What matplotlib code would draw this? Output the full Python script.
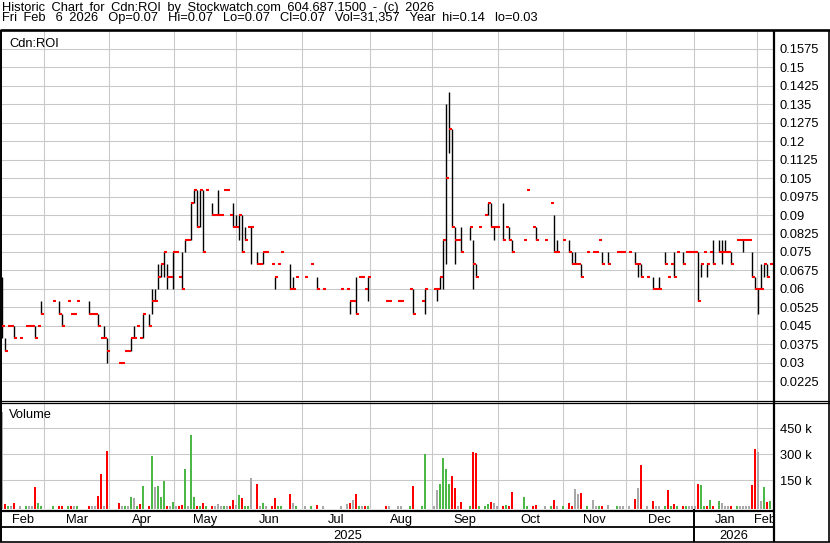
import numpy as np
import matplotlib.pyplot as plt

plt.rcParams['font.family'] = ['Liberation Sans', 'DejaVu Sans']

nan = np.nan

# one entry per trading day, Feb 2025 .. Feb 6 2026 (nan = no trade)
high = [
    .065, .04, .045, .045, .045, nan, .04, nan, .045, .045,
    .045, .045, .045, .055, nan, nan, nan, .055, nan, .055,
    .05, nan, .055, .05, .05, .055, nan, nan, nan, .055,
    .05, .05, .05, .04, .045, .04, nan, nan, nan, .03,
    .03, .035, .035, .04, .045, .045, .04, .05, nan, .05,
    .06, .06, .07, .07, .075, .07, .065, .075, .075, .065,
    .075, .08, .08, .095, .1, .1, .1, .1, .1, nan,
    .095, .09, .1, .09, .1, .1, .09, .095, .09, .09,
    .09, .085, .085, .085, nan, .075, .07, .075, .075, nan,
    .07, .065, .07, .075, nan, nan, .07, .065, .065, nan,
    nan, .065, nan, .07, nan, .065, nan, .06, nan, nan,
    nan, nan, nan, .06, nan, .06, .055, .055, .065, .065,
    .065, .06, .065, nan, nan, nan, nan, nan, .055, .055,
    nan, nan, .055, .055, nan, nan, .06, .06, nan, nan,
    .055, .06, nan, nan, .06, .06, .065, .08, .135, .14,
    .125, .085, .08, .085, nan, nan, .085, .08, .07, .085,
    nan, .09, .095, .095, .085, .085, nan, .095, .085, .085,
    .08, nan, nan, nan, .08, .1, nan, .085, .085, nan,
    nan, .08, nan, .095, .09, .08, nan, .08, nan, .08,
    .075, .075, .07, .07, nan, .075, nan, .075, .075, .08,
    .075, nan, .075, nan, nan, .075, .075, .075, nan, .075,
    nan, .075, .07, .07, nan, .065, nan, .065, .06, .065,
    nan, .075, .065, .07, .075, .075, nan, .075, .075, .075,
    .075, .075, .075, .07, .075, .07, .075, .08, nan, .08,
    .08, .08, .075, .075, nan, .08, .08, .08, .08, .08,
    .075, .065, .06, .07, .07, .07, .07,
]
low = [
    .04, .035, .045, .045, .04, nan, .04, nan, .045, .045,
    .045, .04, .045, .05, nan, nan, nan, .055, nan, .05,
    .045, nan, .055, .05, .05, .055, nan, nan, nan, .05,
    .05, .05, .045, .04, .04, .03, nan, nan, nan, .03,
    .03, .035, .035, .035, .04, .045, .04, .04, nan, .045,
    .05, .055, .06, .065, .065, .06, .065, .06, .075, .065,
    .06, .075, .08, .08, .095, .085, .085, .075, .1, nan,
    .09, .09, .09, .09, .1, .1, .09, .085, .085, .08,
    .075, .08, .085, .07, nan, .07, .07, .07, .075, nan,
    .07, .06, .07, .075, nan, nan, .06, .06, .065, nan,
    nan, .065, nan, .07, nan, .06, nan, .06, nan, nan,
    nan, nan, nan, .06, nan, .06, .05, .055, .05, .065,
    .065, .06, .055, nan, nan, nan, nan, nan, .055, .055,
    nan, nan, .055, .055, nan, nan, .06, .05, nan, nan,
    .055, .05, nan, nan, .06, .055, .06, .06, .07, .115,
    .085, .07, .08, .075, nan, nan, .08, .06, .065, .085,
    nan, .09, .09, .085, .08, .085, nan, .08, .085, .08,
    .075, nan, nan, nan, .08, .1, nan, .085, .08, nan,
    nan, .08, nan, .095, .075, .075, nan, .08, nan, .075,
    .07, .07, .07, .065, nan, .075, nan, .075, .075, .08,
    .07, nan, .07, nan, nan, .075, .075, .075, nan, .075,
    nan, .07, .065, .065, nan, .065, nan, .06, .06, .06,
    nan, .07, .065, .07, .065, .075, nan, .07, .075, .075,
    .075, .075, .055, .065, .075, .065, .075, .07, nan, .075,
    .07, .075, .075, .07, nan, .08, .08, .075, .08, .08,
    .065, .06, .05, .06, .065, .065, .07,
]
close = [
    .045, .035, .045, .045, .04, nan, .04, nan, .045, .045,
    .045, .04, .045, .05, nan, nan, nan, .055, nan, .05,
    .045, nan, .055, .05, .05, .055, nan, nan, nan, .05,
    .05, .05, .045, .04, .04, .035, nan, nan, nan, .03,
    .03, .035, .035, .04, .04, .045, .04, .05, nan, .045,
    .055, .055, .065, .07, .075, .065, .065, .075, .075, .065,
    .06, .08, .08, .095, .1, .085, .1, .075, .1, nan,
    .09, .09, .09, .09, .1, .1, .09, .085, .085, .09,
    .075, .08, .085, .085, nan, .07, .07, .075, .075, nan,
    .07, .065, .07, .075, nan, nan, .06, .06, .065, nan,
    nan, .065, nan, .07, nan, .06, nan, .06, nan, nan,
    nan, nan, nan, .06, nan, .06, .055, .055, .05, .065,
    .065, .06, .065, nan, nan, nan, nan, nan, .055, .055,
    nan, nan, .055, .055, nan, nan, .06, .05, nan, nan,
    .055, .06, nan, nan, .06, .06, .065, .08, .105, .125,
    .085, .08, .08, .075, nan, nan, .085, .07, .065, .085,
    nan, .09, .095, .085, .085, .085, nan, .08, .085, .08,
    .075, nan, nan, nan, .08, .1, nan, .085, .08, nan,
    nan, .08, nan, .095, .075, .075, nan, .08, nan, .075,
    .07, .07, .07, .065, nan, .075, nan, .075, .075, .08,
    .07, nan, .07, nan, nan, .075, .075, .075, nan, .075,
    nan, .07, .07, .065, nan, .065, nan, .06, .06, .06,
    nan, .07, .065, .07, .065, .075, nan, .07, .075, .075,
    .075, .075, .055, .07, .075, .07, .075, .07, nan, .075,
    .075, .075, .075, .07, nan, .08, .08, .08, .08, .08,
    .065, .06, .06, .06, .07, .065, .07,
]
# volume in thousands of shares
volume_k = [
    546, 13.5, 2, 2, 19, 0, 2, 0, 2, 2,
    2, 111.5, 19, 3, 0, 0, 0, 2, 0, 2,
    3, 0, 2, 2, 2, 2, 0, 0, 0, 2,
    2, 2, 60, 186.5, 2, 319, 0, 0, 0, 21,
    2, 2, 2, 54, 48, 2, 13.5, 117, 0, 2,
    290, 111.5, 117, 54, 146, 3, 2, 25, 2, 2,
    8, 215, 2, 411, 54, 2, 3, 19, 3, 0,
    2, 2, 13.5, 2, 2, 3, 2, 36.5, 8, 65,
    48, 2, 2, 163, 0, 129, 3, 19, 2, 0,
    2, 48, 2, 2, 0, 0, 71, 19, 2, 0,
    0, 2, 0, 2, 0, 8, 0, 2, 0, 0,
    0, 0, 0, 2, 0, 13.5, 19, 36.5, 71, 2,
    2, 2, 2, 0, 0, 0, 0, 0, 2, 2,
    0, 0, 2, 2, 0, 0, 2, 117, 0, 0,
    2, 302, 0, 0, 2, 94, 129, 279, 215, 129,
    175, 106, 2, 25, 0, 0, 3, 313, 310, 2,
    0, 2, 13.5, 25, 19, 3, 0, 3, 8, 2,
    83, 0, 0, 0, 54, 2, 0, 2, 8, 0,
    0, 2, 0, 2, 36.5, 2, 0, 2, 0, 19,
    2, 100, 71, 77, 0, 2, 0, 36.5, 2, 2,
    2, 0, 8, 0, 0, 2, 3, 2, 0, 2,
    0, 42, 106, 238, 0, 2, 0, 31, 2, 3,
    0, 2, 94, 2, 13.5, 2, 0, 2, 2, 2,
    2, 2, 129, 123, 2, 2, 36.5, 3, 0, 31,
    19, 2, 2, 3, 0, 2, 2, 2, 2, 2,
    123, 331, 313, 31, 111.5, 25, 31.357,
]

months = ['Feb', 'Mar', 'Apr', 'May', 'Jun', 'Jul', 'Aug',
          'Sep', 'Oct', 'Nov', 'Dec', 'Jan', 'Feb']
years = ['2025', '2026']
# first trading day of each month (day index), Mar 2025 .. Feb 2026
month_lines = [14.1, 35.8, 57.4, 78.1, 100.1, 122.8, 143.4,
               165.4, 187.1, 207.9, 230.6, 251.6]
price_ticks = np.round(0.0225 + 0.0075 * np.arange(19), 4)
vol_ticks = [150000, 300000, 450000]
vol_labels = ['150 k', '300 k', '450 k']

W, H = 830, 543
fig = plt.figure(figsize=(W / 100, H / 100), dpi=100)


def box(x0, y0, x1, y1):
    return [x0 / W, 1 - y1 / H, (x1 - x0) / W, (y1 - y0) / H]


high = np.array(high)
low = np.array(low)
close = np.array(close)
volume = np.array(volume_k) * 1000
days = np.arange(len(close))
n_slots = 257
ok = ~np.isnan(close)

grid_kw = dict(color='#c8c8c8', linewidth=0.75)
fs = 9.3

# price panel
ax_p = fig.add_axes(box(2, 31, 773, 400))
ax_p.set_xlim(0, n_slots)
ax_p.set_ylim(0.01490, 0.16474)
ax_p.vlines(days[ok], low[ok], high[ok], colors='black', linewidth=1.0)
ax_p.hlines(close[ok], days[ok], days[ok] + 0.9, colors='#ff0000', linewidth=1.5)
ax_p.set_xticks(month_lines)
ax_p.set_yticks(price_ticks)
ax_p.set_yticklabels([('%.4f' % v).rstrip('0') for v in price_ticks])
ax_p.yaxis.tick_right()
ax_p.tick_params(axis='x', length=0, labelbottom=False)
ax_p.tick_params(axis='y', length=0, pad=5, labelsize=fs)
for t in ax_p.get_yticklabels():
    t.set_va('center_baseline')
ax_p.grid(True, **grid_kw)
ax_p.set_axisbelow(True)
for s in ax_p.spines.values():
    s.set_visible(False)

# volume colours: up green, down red, unchanged grey
colors = []
prev = nan
for c in close:
    if np.isnan(c) or np.isnan(prev) or c == prev:
        colors.append('#a8a8a8')
    elif c > prev:
        colors.append('#4cb848')
    else:
        colors.append('#ff0000')
    if not np.isnan(c):
        prev = c

vol_floor = -17300
ax_v = fig.add_axes(box(2, 402, 773, 509.3))
ax_v.set_xlim(0, n_slots)
ax_v.set_ylim(vol_floor, 601700)
has_vol = volume > 0
ax_v.bar(days[has_vol] - 0.1, volume[has_vol] - vol_floor, width=0.6,
         bottom=vol_floor, color=np.array(colors)[has_vol], linewidth=0)
ax_v.set_xticks(month_lines)
ax_v.set_yticks(vol_ticks)
ax_v.set_yticklabels(vol_labels)
ax_v.yaxis.tick_right()
ax_v.tick_params(axis='x', length=0, labelbottom=False)
ax_v.tick_params(axis='y', length=0, pad=5, labelsize=fs)
for t in ax_v.get_yticklabels():
    t.set_va('center_baseline')
ax_v.grid(True, **grid_kw)
ax_v.set_axisbelow(True)
for s in ax_v.spines.values():
    s.set_visible(False)

# date strip: months and years
ax_d = fig.add_axes(box(2, 509.3, 773, 542))
ax_d.set_xlim(0, n_slots)
ax_d.set_ylim(542, 509.3)
ax_d.axis('off')
bounds = [0] + month_lines + [n_slots]
for i, m in enumerate(months):
    ax_d.text((bounds[i] + bounds[i + 1]) / 2, 522.7, m, ha='center',
              va='baseline', fontsize=fs, clip_on=True)
ybounds = [0, month_lines[10], n_slots]
for i, y in enumerate(years):
    ax_d.text((ybounds[i] + ybounds[i + 1]) / 2, 539.3, y, ha='center',
              va='baseline', fontsize=fs)
ax_d.axvline(month_lines[10], color='black', linewidth=1.4)

# frame lines
ax_f = fig.add_axes([0, 0, 1, 1], zorder=10)
ax_f.set_xlim(0, W)
ax_f.set_ylim(H, 0)
ax_f.axis('off')
ax_f.patch.set_visible(False)
k = dict(color='black', solid_capstyle='butt')
ax_f.plot([0, W], [29.5, 29.5], linewidth=1.9, **k)
ax_f.plot([0.8, 0.8], [29.5, 542], linewidth=1.4, **k)
ax_f.plot([828.5, 828.5], [29.5, 542], linewidth=1.2, **k)
ax_f.plot([0, W], [541.7, 541.7], linewidth=1.2, **k)
ax_f.plot([773.8, 773.8], [29.5, 542], linewidth=1.6, **k)
ax_f.plot([0, W], [400.6, 400.6], linewidth=0.9, **k)
ax_f.plot([0, W], [402.6, 402.6], linewidth=0.9, **k)
ax_f.plot([0, 773.8], [510.5, 510.5], linewidth=1.6, **k)
ax_f.plot([0, 773.8], [526.9, 526.9], linewidth=1.3, **k)

# header (the original font has wide spaces, so en spaces stand in for them)
sp = '\u2002'
last = len(close) - 1
line1 = sp.join('Historic Chart for Cdn:ROI by Stockwatch.com '
                '604.687.1500 - (c) 2026'.split(' '))
words = ['Fri' + sp + 'Feb', '6 2026'.replace(' ', sp),
         'Op=%g' % close[last], 'Hi=%g' % high[last], 'Lo=%g' % low[last],
         'Cl=%g' % close[last], 'Vol=' + format(int(round(volume[last])), ','),
         'Year' + sp + 'hi=%g' % np.nanmax(high), 'lo=%g' % np.nanmin(low)]
line2 = (sp + ' ').join(words)
fig.text(2 / W, 1 - 11.0 / H, line1, fontsize=fs, va='baseline')
fig.text(2 / W, 1 - 21.5 / H, line2, fontsize=fs, va='baseline')
fig.text(9 / W, 1 - 46.5 / H, 'Cdn:ROI', fontsize=fs, va='baseline')
fig.text(9 / W, 1 - 418 / H, 'Volume', fontsize=fs, va='baseline')

fig.savefig('out.png', dpi=100)
